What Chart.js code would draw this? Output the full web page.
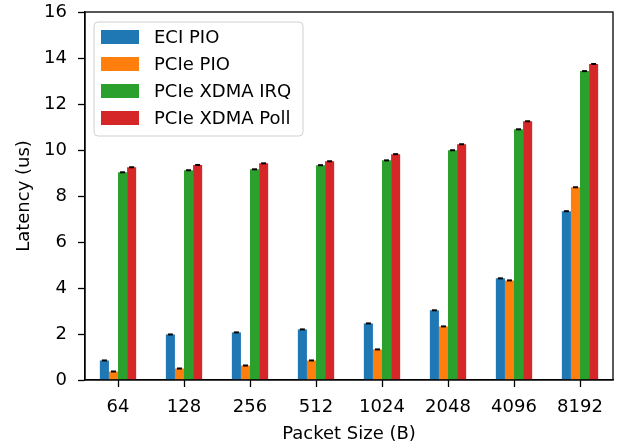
<!DOCTYPE html>
<html>
<head>
<meta charset="utf-8">
<script src="https://cdn.jsdelivr.net/npm/chart.js@4"></script>
<style>
  body { margin: 0; background: #fff; }
  #wrap { width: 618px; height: 447px; }
</style>
</head>
<body>
<div id="wrap"><canvas id="latencyChart" width="618" height="447"></canvas></div>
<script>
// packet sizes on the x axis
const packetSizes = ["64", "128", "256", "512", "1024", "2048", "4096", "8192"];

// latency in us
const eciPio = [0.85, 1.98, 2.07, 2.20, 2.46, 3.03, 4.42, 7.34];
const pciePio = [0.37, 0.50, 0.63, 0.85, 1.33, 2.33, 4.33, 8.38];
const xdmaIrq = [9.03, 9.12, 9.16, 9.34, 9.55, 9.99, 10.90, 13.43];
const xdmaPoll = [9.25, 9.35, 9.42, 9.51, 9.82, 10.25, 11.25, 13.74];

const yTicks = [0, 2, 4, 6, 8, 10, 12, 14, 16];

const FONT = "'DejaVu Sans', sans-serif";
const FS = 18;

// frame around the plot
const framePlugin = {
	id: "frame",
	afterDraw(chart) {
		const a = chart.chartArea;
		const ctx = chart.ctx;
		ctx.save();
		ctx.strokeStyle = "#000";
		ctx.lineWidth = 1.3;
		ctx.strokeRect(a.left, a.top, a.right - a.left, a.bottom - a.top);
		ctx.restore();
	},
};

// legend box in upper left corner, matplotlib style
const legendPlugin = {
	id: "boxLegend",
	afterDraw(chart) {
		const a = chart.chartArea;
		const ctx = chart.ctx;
		const x0 = a.left + 9, y0 = a.top + 10;
		const w = 209, h = 114;
		ctx.save();
		ctx.beginPath();
		ctx.roundRect(x0, y0, w, h, 4);
		ctx.fillStyle = "rgba(255,255,255,0.8)";
		ctx.fill();
		ctx.strokeStyle = "#d0d0d0";
		ctx.lineWidth = 1;
		ctx.stroke();
		ctx.font = FS + "px " + FONT;
		ctx.textBaseline = "middle";
		chart.data.datasets.forEach((ds, i) => {
			const cy = y0 + 15 + i * 27;
			ctx.fillStyle = ds.backgroundColor;
			ctx.fillRect(x0 + 7, cy - 7, 38, 14);
			ctx.fillStyle = "#000";
			ctx.fillText(ds.label, x0 + 60, cy + 1);
		});
		ctx.restore();
	},
};

// small black caps on top of each bar (error bars)
const capPlugin = {
	id: "caps",
	afterDatasetsDraw(chart) {
		const ctx = chart.ctx;
		ctx.save();
		ctx.strokeStyle = "#000";
		ctx.lineWidth = 2;
		chart.data.datasets.forEach((ds, i) => {
			chart.getDatasetMeta(i).data.forEach((bar) => {
				ctx.beginPath();
				ctx.moveTo(bar.x - 2.5, bar.y);
				ctx.lineTo(bar.x + 2.5, bar.y);
				ctx.stroke();
			});
		});
		ctx.restore();
	},
};

const latencyData = {
	labels: packetSizes,
	datasets: [
		{ label: "ECI PIO", backgroundColor: "#1f77b4", data: eciPio },
		{ label: "PCIe PIO", backgroundColor: "#ff7f0e", data: pciePio },
		{ label: "PCIe XDMA IRQ", backgroundColor: "#2ca02c", data: xdmaIrq },
		{ label: "PCIe XDMA Poll", backgroundColor: "#d62728", data: xdmaPoll },
	],
};

function zeroPad(axis) {
	axis.paddingTop = 0;
	axis.paddingBottom = 0;
	axis.paddingLeft = 0;
	axis.paddingRight = 0;
}

const latencyConfig = {
	type: "bar",
	data: latencyData,
	options: {
		responsive: false,
		animation: false,
		layout: { autoPadding: false, padding: { top: 12, right: 5, left: 0, bottom: 0 } },
		datasets: { bar: { barPercentage: 1, categoryPercentage: 0.55, borderWidth: 0 } },
		plugins: {
			tooltip: { enabled: false },
			legend: { display: false },
		},
		scales: {
			x: {
				afterFit(axis) { axis.height = 67; zeroPad(axis); },
				grid: { display: true, offset: false, drawOnChartArea: false, tickLength: 7, color: "#000", tickWidth: 1.3 },
				border: { display: true, color: "#000", width: 1.3 },
				ticks: { color: "#000", font: { family: FONT, size: FS }, padding: 10, maxRotation: 0 },
				title: { display: true, text: "Packet Size (B)", color: "#000", font: { family: FONT, size: FS }, padding: { top: 2, bottom: 2 } },
			},
			y: {
				min: 0,
				max: 16,
				afterBuildTicks(axis) { axis.ticks = yTicks.map((v) => ({ value: v })); },
				afterFit(axis) { axis.width = 85; zeroPad(axis); },
				grid: { display: true, drawOnChartArea: false, tickLength: 7, color: "#000", tickWidth: 1.3 },
				border: { display: true, color: "#000", width: 1.3 },
				ticks: { color: "#000", font: { family: FONT, size: FS }, padding: 11 },
				title: { display: true, text: "Latency (us)", color: "#000", font: { family: FONT, size: FS }, padding: { top: 14, bottom: 0 } },
			},
		},
	},
	plugins: [framePlugin, capPlugin, legendPlugin],
};

const LatencyChart = new Chart(document.getElementById("latencyChart"), latencyConfig);
</script>
</body>
</html>
